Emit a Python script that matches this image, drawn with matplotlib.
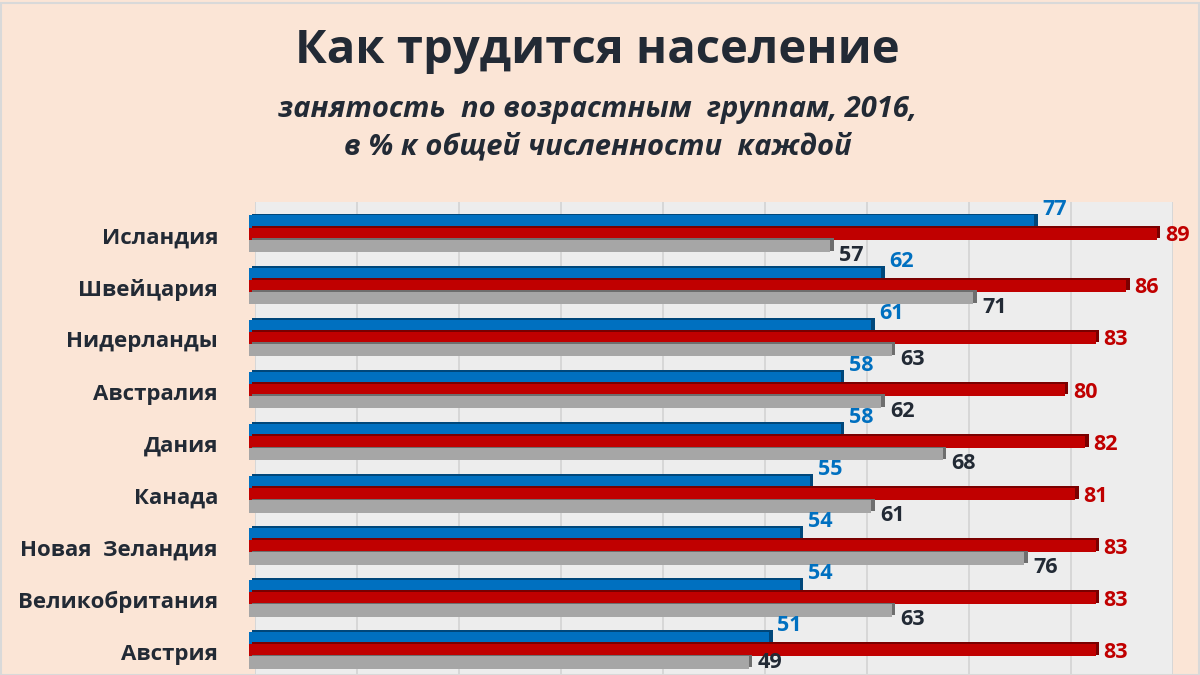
import matplotlib
matplotlib.use("Agg")
import matplotlib.pyplot as plt
import matplotlib.patheffects as pe
import matplotlib.transforms as mtransforms
import numpy as np

plt.rcParams['font.family'] = ['Open Sans', 'DejaVu Sans']

titre = "Как трудится население"
sousTitre = "занятость  по возрастным  группам, 2016,\nв % к общей численности  каждой"

pays = ["Исландия", "Швейцария", "Нидерланды", "Австралия", "Дания",
        "Канада", "Новая  Зеландия", "Великобритания", "Австрия"]
serieBleue = [77, 62, 61, 58, 58, 55, 54, 54, 51]
serieRouge = [89, 86, 83, 80, 82, 81, 83, 83, 83]
serieGrise = [57, 71, 63, 62, 68, 61, 76, 63, 49]
graduations = [0, 10, 20, 30, 40, 50, 60, 70, 80, 90]

fond = "#FBE5D6"
fondAxe = "#EDEDED"
texteFonce = "#222A35"
bleu = "#0070C0"
rouge = "#C00000"
gris = "#A6A6A6"

fig = plt.figure(figsize=(12, 6.75), dpi=100, facecolor=fond)
ax = fig.add_axes([255 / 1200, 0, (1173 - 255) / 1200, 1 - 202 / 675])
ax.set_facecolor(fondAxe)

y = np.arange(len(pays))
h = 0.237

# decalages en pixels
def decalage(dx, dy):
    return ax.transData + mtransforms.ScaledTranslation(dx / 100, -dy / 100, fig.dpi_scale_trans)

# effet 3D d'excel : barres legerement decalees vers la gauche
decal3D = -6

series = [(serieBleue, bleu, "#00477A", -h), (serieRouge, rouge, "#7A0000", 0), (serieGrise, gris, "#6E6E6E", h)]
for valeurs, couleur, ombre, decal in series:
    bars = ax.barh(y + decal, valeurs, height=h, color=couleur, zorder=3, linewidth=0, clip_on=False)
    for b in bars:
        b.set_transform(decalage(decal3D, 0))
        b.set_path_effects([pe.SimplePatchShadow(offset=(2.5, 1.2), shadow_rgbFace=ombre, alpha=1),
                            pe.Normal()])

tailleEtiquette = 15.5
for i in range(len(pays)):
    ax.text(serieBleue[i], y[i] - h, str(serieBleue[i]), color=bleu, fontsize=tailleEtiquette, fontweight="bold",
            ha="left", va="center", transform=decalage(8 + decal3D, -12), zorder=5)
    ax.text(serieRouge[i], y[i], str(serieRouge[i]), color=rouge, fontsize=tailleEtiquette, fontweight="bold",
            ha="left", va="center", transform=decalage(8 + decal3D, 2), zorder=5)
    # excel garde l'etiquette dans la zone de tracé pour le dernier groupe
    dyGris = 9 if i < len(pays) - 1 else 0
    ax.text(serieGrise[i], y[i] + h, str(serieGrise[i]), color=texteFonce, fontsize=tailleEtiquette, fontweight="bold",
            ha="left", va="center", transform=decalage(9 + decal3D, dyGris), zorder=5)
    ax.text(0, y[i], pays[i], color=texteFonce, fontsize=16, fontweight="bold",
            ha="right", va="center", transform=decalage(-37, 4), zorder=5)

ax.set_xlim(0, 90)
ax.set_ylim(8.48, -0.615)
ax.set_xticks(graduations)
ax.set_yticks([])
ax.tick_params(axis="x", length=0, labelbottom=False)
ax.grid(axis="x", color="#D3D3D3", linewidth=1.2, zorder=0)
for s in ax.spines.values():
    s.set_visible(False)

fig.text(0.498, 1 - 50 / 675, titre, ha="center", va="center", fontsize=34, fontweight="bold", color=texteFonce)
fig.text(0.498, 1 - 128 / 675, sousTitre, ha="center", va="center", fontsize=21, fontweight="bold",
         style="italic", color=texteFonce, linespacing=1.4)

fig.patches.append(plt.Rectangle((0.001, 0), 0.998, 0.996, transform=fig.transFigure, fill=False,
                                 edgecolor="#D9D9D9", linewidth=1.5))

fig.savefig("out.png", dpi=100, facecolor=fond)
